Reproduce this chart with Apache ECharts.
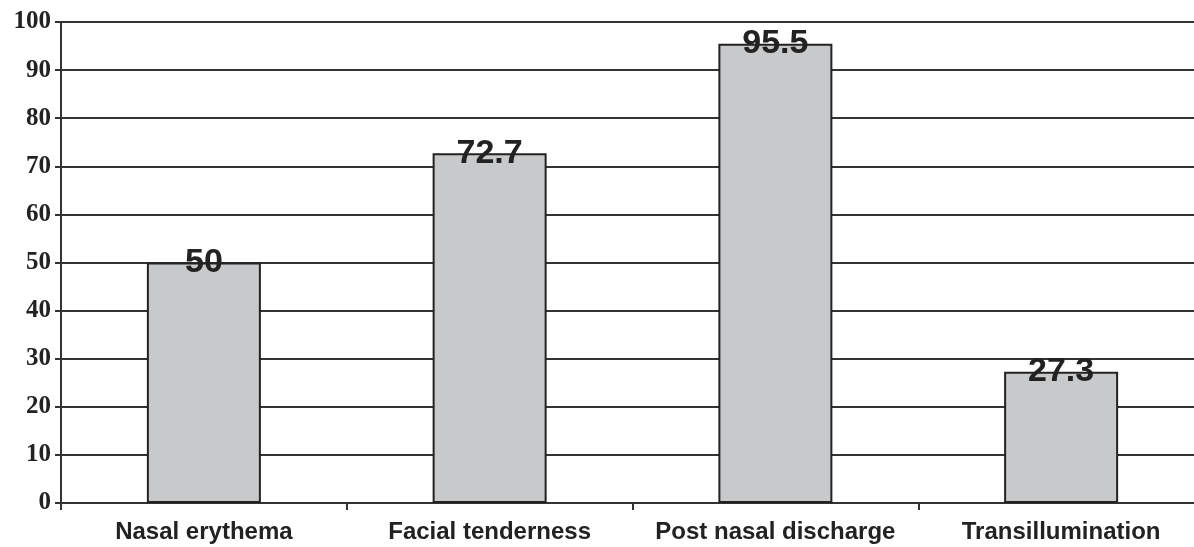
<!DOCTYPE html>
<html><head><meta charset="utf-8">
<script src="https://cdn.jsdelivr.net/npm/echarts@6/dist/echarts.min.js"></script>
<style>html,body{margin:0;padding:0;background:#fff;}#c{width:1194px;height:547px;}</style>
</head><body><div id="c"></div>
<script>
const categories = ['Nasal erythema', 'Facial tenderness', 'Post nasal discharge', 'Transillumination'];
const values = [50, 72.7, 95.5, 27.3];
const yTicks = { min: 0, max: 100, interval: 10 };

const chart = echarts.init(document.getElementById('c'));
chart.setOption({
  animation: false,
  backgroundColor: '#fff',
  grid: { left: 61, right: -10, top: 22, bottom: 44, outerBoundsMode: 'none', containLabel: false },
  xAxis: {
    type: 'category', data: categories,
    axisLine: { lineStyle: { color: '#333', width: 2 } },
    axisTick: { show: true, length: 7, lineStyle: { color: '#333', width: 2 } },
    axisLabel: { interval: 0, hideOverlap: false, color: '#222', fontFamily: 'Liberation Sans, Arial', fontWeight: 'bold', fontSize: 24, margin: 17 }
  },
  yAxis: {
    type: 'value', min: yTicks.min, max: yTicks.max, interval: yTicks.interval,
    axisLine: { show: true, lineStyle: { color: '#333', width: 2 } },
    axisTick: { show: true, length: 6, lineStyle: { color: '#333', width: 2 } },
    axisLabel: { color: '#222', fontFamily: 'Liberation Serif, Times New Roman', fontWeight: 'bold', fontSize: 25, margin: 10 },
    splitLine: { lineStyle: { color: '#333', width: 2 } }
  },
  series: [{
    type: 'bar', data: values, barWidth: 114,
    itemStyle: { color: '#c8c9cb', borderColor: '#222', borderWidth: 2 },
    label: {
      show: true, position: ['50%', 0], align: 'center', verticalAlign: 'middle',
      color: '#222', fontFamily: 'Liberation Sans, Arial', fontWeight: 'bold', fontSize: 34
    }
  }]
});
</script></body></html>
